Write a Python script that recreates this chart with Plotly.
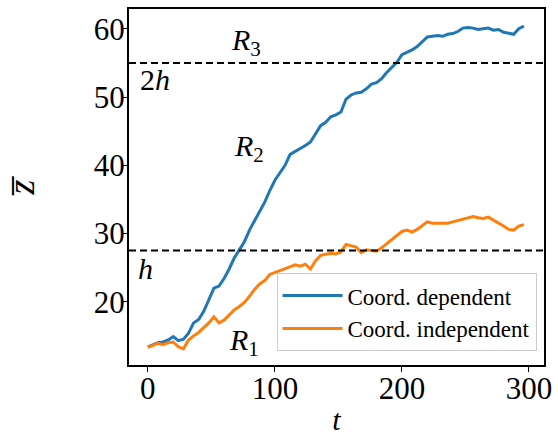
import plotly.graph_objects as go

# time samples
t = list(range(0, 300, 4))

# Coord. dependent (blue)
z_dependent = [
    13.4, 13.7, 14.0, 14.1, 14.4, 14.9, 14.3, 14.5, 15.4, 16.9,
    17.4, 18.6, 20.2, 22.0, 22.3, 23.4, 24.8, 26.4, 27.6, 28.8,
    30.5, 31.8, 33.3, 34.6, 36.3, 37.8, 38.9, 40.0, 41.6, 42.0,
    42.4, 42.9, 43.4, 44.6, 45.8, 46.3, 47.1, 47.4, 47.8, 49.7,
    50.3, 50.6, 50.7, 51.2, 51.9, 52.1, 52.7, 53.6, 54.4, 55.1,
    56.2, 56.5, 56.9, 57.4, 58.1, 58.8, 58.9, 59.0, 58.9, 59.2,
    59.3, 59.6, 60.1, 60.2, 60.1, 59.9, 60.0, 60.1, 59.8, 59.9,
    59.5, 59.4, 59.2, 60.0, 60.4,
]

# Coord. independent (orange)
z_independent = [
    13.3, 13.6, 13.9, 13.7, 14.0, 14.1, 13.4, 13.1, 14.4, 15.0,
    15.5, 16.2, 16.9, 17.8, 16.9, 17.3, 18.0, 18.8, 19.3, 19.9,
    20.8, 21.8, 22.6, 23.1, 24.0, 24.3, 24.5, 24.8, 25.2, 25.4,
    25.2, 25.5, 24.8, 26.0, 26.8, 27.0, 27.1, 27.0, 27.3, 28.4,
    28.2, 28.0, 27.2, 27.6, 27.5, 27.4, 27.9, 28.5, 29.1, 29.7,
    30.3, 30.5, 30.2, 30.6, 31.2, 31.7, 31.5, 31.5, 31.4, 31.5,
    31.7, 31.9, 32.2, 32.4, 32.5, 32.3, 32.2, 32.4, 32.0, 31.6,
    31.1, 30.6, 30.5, 31.1, 31.3,
]

h_level = 27.5
two_h_level = 55.0

x_ticks = [0, 100, 200, 300]
y_ticks = [20, 30, 40, 50, 60]

series_names = ["Coord. dependent", "Coord. independent"]
series_colors = ["#1f77b4", "#ff7f0e"]

region_labels = [
    ("<i>R</i><sub>3</sub>", 77, 58.1),
    ("<i>R</i><sub>2</sub>", 80, 42.6),
    ("<i>R</i><sub>1</sub>", 75.6, 14.1),
    ("2<i>h</i>", 5.5, 52.6),
    ("<i>h</i>", -1.5, 24.8),
]

SERIF = "Liberation Serif"

fig = go.Figure()
for name, color, ys in zip(series_names, series_colors, [z_dependent, z_independent]):
    fig.add_trace(go.Scatter(x=t, y=ys, mode="lines", name=name,
                             line=dict(color=color, width=3)))

for lvl in (two_h_level, h_level):
    fig.add_shape(type="line", xref="paper", x0=0, x1=1, yref="y", y0=lvl, y1=lvl,
                  line=dict(color="black", width=2, dash="7px,4px"))

for txt, x, y in region_labels:
    fig.add_annotation(x=x, y=y, text=txt, showarrow=False,
                       font=dict(family=SERIF, size=30, color="black"))

fig.update_layout(
    width=558, height=436,
    margin=dict(l=129, r=14, t=9, b=71, autoexpand=False),
    plot_bgcolor="white", paper_bgcolor="white",
    font=dict(family=SERIF, color="black"),
    showlegend=True,
    legend=dict(x=0.982, y=0.039, xanchor="right", yanchor="bottom",
                bgcolor="rgba(255,255,255,0.8)", bordercolor="#cccccc", borderwidth=1,
                font=dict(family=SERIF, size=23, color="black"),
                itemwidth=60, tracegroupgap=0),
)

fig.update_xaxes(range=[-14.85, 311.85], tickvals=x_ticks, ticks="outside", ticklen=5,
                 tickwidth=1.3, tickcolor="black", showline=True, linecolor="black",
                 linewidth=2, mirror=True, showgrid=False, zeroline=False,
                 ticklabelstandoff=-10, automargin=False,
                 tickfont=dict(family=SERIF, size=31, color="black"),
                 title=dict(text="<i>t</i>", font=dict(family=SERIF, size=30), standoff=33))
fig.update_yaxes(range=[10.73, 62.9], tickvals=y_ticks, ticks="outside", ticklen=5,
                 tickwidth=1.3, tickcolor="black", showline=True, linecolor="black",
                 linewidth=2, mirror=True, showgrid=False, zeroline=False,
                 ticklabelstandoff=-9, automargin=False,
                 tickfont=dict(family=SERIF, size=31, color="black"),
                 title=dict(text="<i>z\u0305</i>", font=dict(family=SERIF, size=38), standoff=63))

fig.write_html("out.html", config={"displayModeBar": False},
               post_script="document.body.style.margin='0';document.body.style.overflow='hidden';")
